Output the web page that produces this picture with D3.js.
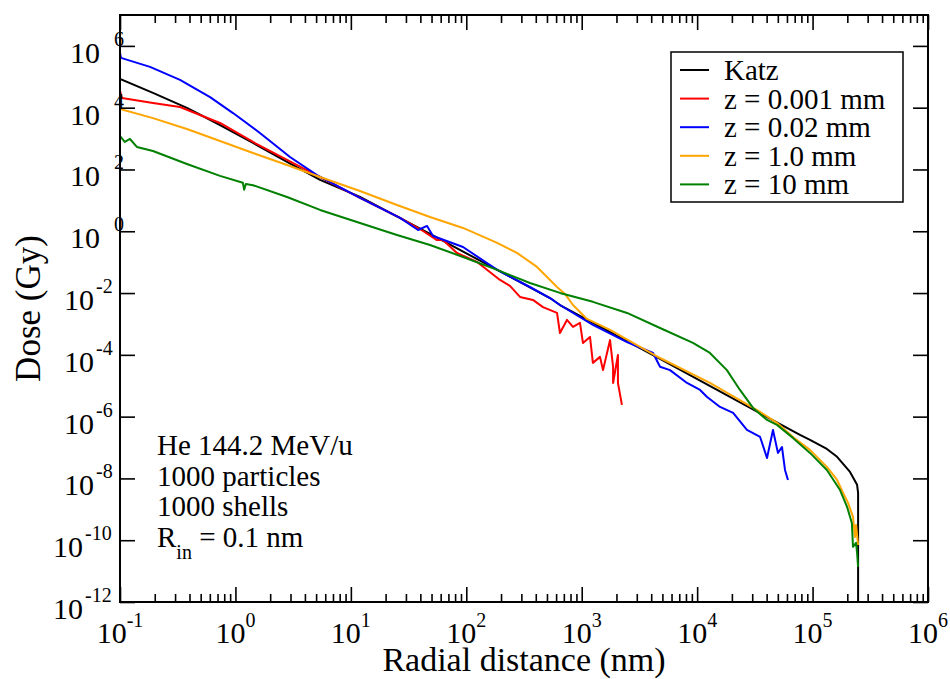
<!DOCTYPE html>
<html><head><meta charset="utf-8">
<script src="https://cdn.jsdelivr.net/npm/d3@7"></script>
<style>
body{margin:0;background:#fff;}
svg{display:block;}
text{font-family:"Liberation Serif","Times New Roman",serif;fill:#000;}
</style>
</head><body>
<svg id="chart" width="950" height="679"></svg>
<script>
// ---------- data ----------
const xMajorTicks = [1e-1, 1e0, 1e1, 1e2, 1e3, 1e4, 1e5, 1e6];
const xTickExponents = ["-1", "0", "1", "2", "3", "4", "5", "6"];
const yMajorTicks = [1e-12, 1e-10, 1e-8, 1e-6, 1e-4, 1e-2, 1e0, 1e2, 1e4, 1e6];
const yTickExponents = ["-12", "-10", "-8", "-6", "-4", "-2", "0", "2", "4", "6"];

const seriesNames = ["Katz", "z = 0.001 mm", "z = 0.02 mm", "z = 1.0 mm", "z = 10 mm"];
const seriesColors = ["#000000", "#ff0000", "#0000ff", "#ffa500", "#008000"];

const katzR = [0.1, 0.193, 0.38, 0.735, 1.42, 2.80, 5.41, 12.0, 48.5, 531, 648, 4770, 7.78e4, 9.5e4, 1.33e5, 1.63e5, 2.11e5, 2.43e5, 2.48e5, 2.48e5];
const katzD = [8.5e4, 3.0e4, 9.8e3, 2.75e3, 721, 175, 46, 12.9, 0.82, 6.9e-3, 4.1e-3, 7.4e-5, 2.56e-7, 1.76e-7, 9.0e-8, 5.0e-8, 1.62e-8, 6.2e-9, 3.4e-9, 1e-12];

const z0001R = [0.1, 0.104, 0.193, 0.331, 0.493, 0.735, 1.42, 2.80, 5.41, 12.0, 26.7, 42.2, 55.7, 62.8, 83, 124, 196, 239, 292, 378, 462, 611, 648, 745, 840, 966, 1025, 1180, 1250, 1440, 1530, 1760, 1870, 1870, 2060, 2060, 2230];
const z0001D = [3.5e4, 2.06e4, 1.42e4, 1.05e4, 5.8e3, 3.2e3, 776, 203, 57, 12.0, 2.7, 1.02, 0.52, 0.52, 0.199, 0.101, 0.0265, 0.017, 7.5e-3, 6.0e-3, 3.5e-3, 2.27e-3, 5.1e-4, 1.35e-3, 8.0e-4, 1.08e-3, 2.43e-4, 3.8e-4, 5.5e-5, 8.6e-5, 3.2e-5, 3.0e-4, 4.1e-5, 1.23e-5, 9.9e-5, 1.23e-5, 2.39e-6];

const z002R = [0.1, 0.102, 0.182, 0.331, 0.603, 0.953, 1.63, 2.97, 5.09, 12.0, 26.7, 38.2, 45.7, 51.5, 93.7, 185, 356, 531, 648, 1250, 2470, 4150, 4770, 5820, 8170, 1.06e4, 1.22e4, 1.58e4, 2.05e4, 2.70e4, 3.51e4, 4.03e4, 4.54e4, 5.01e4, 5.43e4, 5.77e4, 6.12e4];
const z002D = [5.9e5, 4.1e5, 2.1e5, 7.9e4, 2.2e4, 6.7e3, 1.52e3, 254, 66, 12.0, 2.7, 1.1, 1.49, 0.70, 0.31, 0.056, 0.0157, 6.9e-3, 4.1e-3, 9.3e-4, 2.6e-4, 1.15e-4, 4.1e-5, 3.2e-5, 1.23e-5, 7.3e-6, 4.3e-6, 2.06e-6, 1.32e-6, 3.7e-7, 2.20e-7, 4.6e-8, 3.7e-7, 6.7e-8, 1.04e-7, 1.88e-8, 8.9e-9];

const z1R = [0.1, 0.193, 0.38, 0.735, 1.42, 2.80, 5.41, 12.0, 25.1, 48.5, 93.7, 185, 275, 410, 611, 716, 840, 1110, 1760, 2780, 4770, 1.29e4, 3.51e4, 4.92e4, 6.76e4, 9.5e4, 1.33e5, 1.63e5, 1.84e5, 2.03e5, 2.24e5, 2.33e5, 2.38e5, 2.48e5];
const z1D = [9.1e3, 4.6e3, 2.05e3, 836, 342, 140, 57, 20.1, 7.1, 2.9, 1.28, 0.42, 0.199, 0.070, 0.0157, 9.4e-3, 4.1e-3, 1.45e-3, 6.4e-4, 2.43e-4, 7.9e-5, 1.23e-5, 1.42e-6, 6.3e-7, 2.20e-7, 8.4e-8, 2.36e-8, 8.9e-9, 3.4e-9, 1.61e-9, 5.7e-10, 1.28e-10, 3.1e-10, 7.0e-11];

const z10R = [0.1, 0.110, 0.122, 0.14, 0.193, 0.38, 0.735, 1.16, 1.19, 1.23, 1.42, 2.80, 5.41, 12.0, 25.1, 48.5, 93.7, 185, 356, 648, 1250, 2470, 4770, 9200, 1.29e4, 1.81e4, 2.35e4, 3.05e4, 4.03e4, 4.92e4, 6.76e4, 9.5e4, 1.33e5, 1.73e5, 1.99e5, 2.19e5, 2.24e5, 2.38e5, 2.43e5, 2.48e5];
const z10D = [1.21e3, 776, 970, 535, 397, 151, 62, 37, 22, 34, 31, 12.9, 4.9, 1.86, 0.76, 0.36, 0.147, 0.056, 0.0212, 0.0101, 5.2e-3, 2.27e-3, 7.4e-4, 2.43e-4, 1.15e-4, 3.2e-5, 7.3e-6, 1.91e-6, 7.8e-7, 5.4e-7, 2.05e-7, 6.7e-8, 1.88e-8, 4.2e-9, 1.20e-9, 3.6e-10, 6.1e-11, 8.2e-11, 3.9e-11, 1.37e-11];

const annotationLines = ["He 144.2 MeV/u", "1000 particles", "1000 shells"];
const xTitle = "Radial distance (nm)";
const yTitle = "Dose (Gy)";

// ---------- layout ----------
const L = 120, R = 928, T = 15, B = 602;
const svg = d3.select("#chart");
const x = d3.scaleLog().domain([1e-1, 1e6]).range([L, R]);
const y = d3.scaleLog().domain([1e-12, 1e7]).range([B, T]);

const xMinor = [];
for (let e = -1; e < 6; e++) for (let k = 2; k <= 9; k++) xMinor.push(k * Math.pow(10, e));

const series = [
  {r: katzR, d: katzD}, {r: z0001R, d: z0001D}, {r: z002R, d: z002D},
  {r: z1R, d: z1D}, {r: z10R, d: z10D}
].map((s, i) => ({name: seriesNames[i], color: seriesColors[i], pts: s.r.map((rv, j) => [rv, s.d[j]])}));

svg.append("defs").append("clipPath").attr("id", "clip")
  .append("rect").attr("x", L).attr("y", T).attr("width", R - L).attr("height", B - T);

const line = d3.line().x(d => x(d[0])).y(d => y(d[1]));
const g = svg.append("g").attr("clip-path", "url(#clip)");
series.forEach(s => {
  g.append("path").attr("d", line(s.pts)).attr("fill", "none")
    .attr("stroke", s.color).attr("stroke-width", 2).attr("stroke-linejoin", "round");
});

// ---------- axes ----------
function styleAxis(sel) {
  sel.select(".domain").remove();
  sel.selectAll(".tick line").attr("stroke", "#000").attr("stroke-width", 1.6);
  sel.selectAll(".tick text").remove();
}
svg.append("g").attr("transform", `translate(0,${B})`)
  .call(d3.axisBottom(x).tickValues(xMajorTicks).tickSize(-15).tickFormat("")).call(styleAxis);
svg.append("g").attr("transform", `translate(0,${B})`)
  .call(d3.axisBottom(x).tickValues(xMinor).tickSize(-8).tickFormat("")).call(styleAxis);
svg.append("g").attr("transform", `translate(0,${T})`)
  .call(d3.axisTop(x).tickValues(xMajorTicks).tickSize(-15).tickFormat("")).call(styleAxis);
svg.append("g").attr("transform", `translate(0,${T})`)
  .call(d3.axisTop(x).tickValues(xMinor).tickSize(-8).tickFormat("")).call(styleAxis);
svg.append("g").attr("transform", `translate(${L},0)`)
  .call(d3.axisLeft(y).tickValues(yMajorTicks).tickSize(-15).tickFormat("")).call(styleAxis);
svg.append("g").attr("transform", `translate(${R},0)`)
  .call(d3.axisRight(y).tickValues(yMajorTicks).tickSize(-15).tickFormat("")).call(styleAxis);

// x tick labels
xMajorTicks.forEach((v, i) => {
  const t = svg.append("text").attr("x", x(v)).attr("y", B + 41)
    .attr("text-anchor", "middle").attr("font-size", 30);
  t.append("tspan").text("10");
  t.append("tspan").attr("font-size", 20).attr("dy", -16).text(xTickExponents[i]);
});
// y tick labels
yMajorTicks.forEach((v, i) => {
  const ex = yTickExponents[i];
  const yy = y(v) + 17;
  let tenEnd, supStart;
  if (ex.startsWith("-")) {
    tenEnd = ex.length > 2 ? L - 37 : L - 26;
    supStart = tenEnd + 2;
  } else {
    tenEnd = L - 20;
    supStart = L - 6;
  }
  svg.append("text").attr("x", tenEnd).attr("y", yy).attr("text-anchor", "end")
    .attr("font-size", 30).text("10");
  svg.append("text").attr("x", supStart).attr("y", yy - 17).attr("text-anchor", "start")
    .attr("font-size", 20).text(ex);
});

// frame
svg.append("rect").attr("x", L).attr("y", T).attr("width", R - L).attr("height", B - T)
  .attr("fill", "none").attr("stroke", "#000").attr("stroke-width", 2);

// titles
svg.append("text").attr("x", (L + R) / 2).attr("y", 671).attr("text-anchor", "middle")
  .attr("font-size", 34).text(xTitle);
svg.append("text").attr("transform", `translate(40,${(T + B) / 2}) rotate(-90)`)
  .attr("text-anchor", "middle").attr("font-size", 35).text(yTitle);

// annotation
annotationLines.forEach((s, i) => {
  svg.append("text").attr("x", 157).attr("y", 455 + i * 30.5).attr("font-size", 29).text(s);
});
const rin = svg.append("text").attr("x", 157).attr("y", 455 + 3 * 30.5).attr("font-size", 29);
rin.append("tspan").text("R");
rin.append("tspan").attr("font-size", 20).attr("dy", 12).text("in");
rin.append("tspan").attr("dy", -12).text(" = 0.1 nm");

// legend
const lg = svg.append("g");
lg.append("rect").attr("x", 671).attr("y", 52).attr("width", 232).attr("height", 150)
  .attr("fill", "#fff").attr("stroke", "#000").attr("stroke-width", 1.5);
series.forEach((s, i) => {
  const yy = 70 + i * 28.6;
  lg.append("line").attr("x1", 680).attr("x2", 709).attr("y1", yy).attr("y2", yy)
    .attr("stroke", s.color).attr("stroke-width", 2);
  lg.append("text").attr("x", 724).attr("y", yy + 10).attr("font-size", 29).text(s.name);
});
</script>
</body></html>
